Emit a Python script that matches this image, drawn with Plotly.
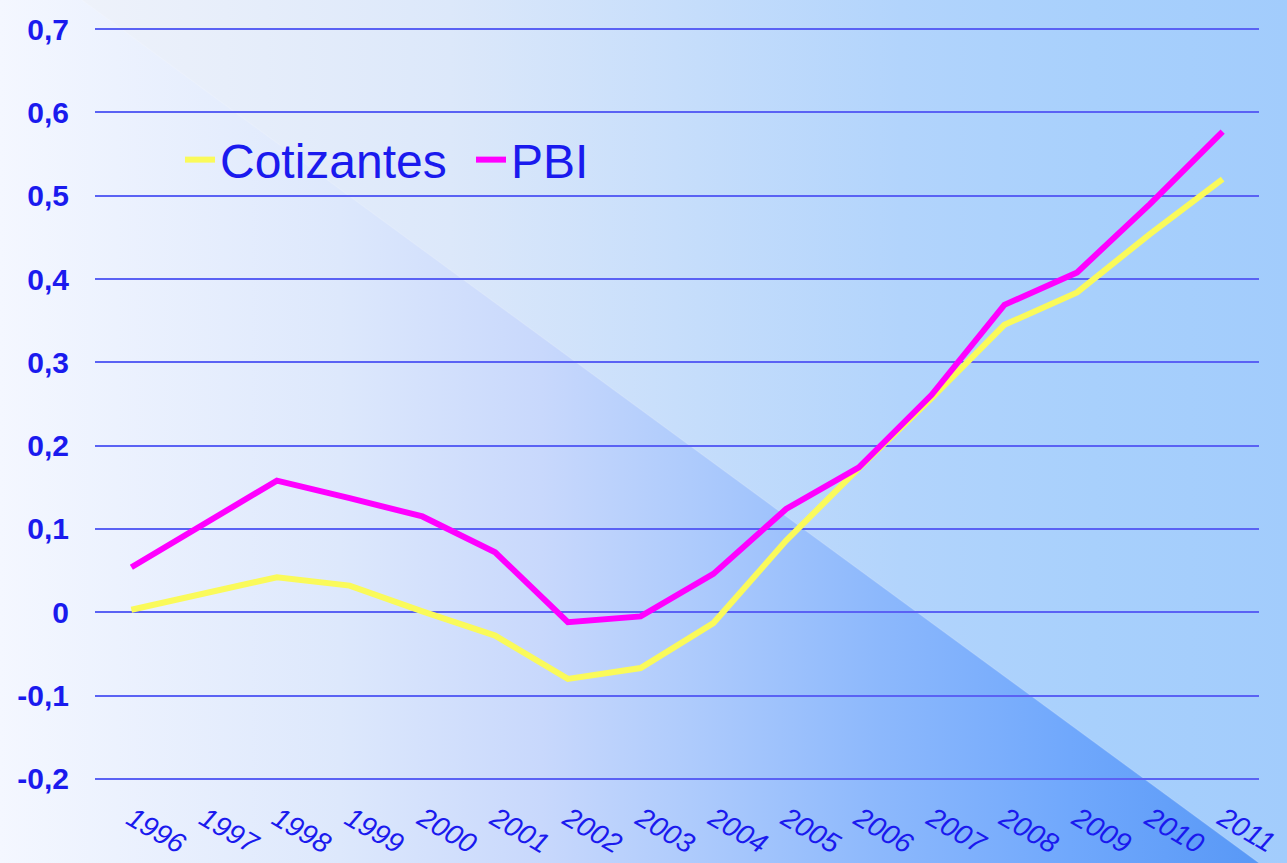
import base64
import plotly.graph_objects as go

years = [str(y) for y in range(1996, 2012)]
cotizantes = [0.003, 0.022, 0.042, 0.032, 0.001, -0.028, -0.080, -0.067,
              -0.013, 0.086, 0.173, 0.257, 0.345, 0.384, 0.454, 0.520]
pbi = [0.054, 0.107, 0.158, 0.137, 0.115, 0.072, -0.012, -0.005,
       0.046, 0.124, 0.174, 0.261, 0.369, 0.408, 0.490, 0.577]
y_ticks = [-0.2, -0.1, 0, 0.1, 0.2, 0.3, 0.4, 0.5, 0.6, 0.7]
y_labels = ["-0,2", "-0,1", "0", "0,1", "0,2", "0,3", "0,4", "0,5", "0,6", "0,7"]

W, H = 1287, 863
L, R, T, B = 95, 28, 25, 80
pw, ph = W - L - R, H - T - B

svg = f'''<svg xmlns="http://www.w3.org/2000/svg" width="{W}" height="{H}" viewBox="0 0 {W} {H}" preserveAspectRatio="none">
<defs>
<linearGradient id="g1" x1="0" y1="0" x2="1" y2="0">
<stop offset="0" stop-color="#f2f4fa"/><stop offset="0.35" stop-color="#dce8fa"/>
<stop offset="0.7" stop-color="#b2d4fc"/><stop offset="0.85" stop-color="#a8d0fc"/>
<stop offset="1" stop-color="#a2ccfc"/>
</linearGradient>
<linearGradient id="g2" x1="0" y1="0" x2="1" y2="0">
<stop offset="0" stop-color="#f4f7ff"/><stop offset="0.27" stop-color="#dde8fc"/>
<stop offset="0.43" stop-color="#c8d8fc"/><stop offset="0.54" stop-color="#b0ccfc"/>
<stop offset="0.7" stop-color="#8cb8fc"/><stop offset="0.85" stop-color="#70a8fc"/>
<stop offset="1" stop-color="#5898f6"/>
</linearGradient>
</defs>
<rect x="0" y="0" width="{W}" height="{H}" fill="url(#g1)"/>
<polygon points="0,0 82,0 1259,{H} 0,{H}" fill="url(#g2)"/>
<line x1="82" y1="0" x2="1259" y2="{H}" stroke="#ffffff" stroke-opacity="0.15" stroke-width="1.2"/>
</svg>'''
src = "data:image/svg+xml;base64," + base64.b64encode(svg.encode()).decode()

fig = go.Figure()
fig.add_trace(go.Scatter(x=years, y=cotizantes, name="Cotizantes", mode="lines",
                         line=dict(color="#fafa5a", width=6)))
fig.add_trace(go.Scatter(x=years, y=pbi, name="PBI", mode="lines",
                         line=dict(color="#ff00ff", width=6)))

fig.update_layout(
    width=W, height=H,
    margin=dict(l=L, r=R, t=T, b=B),
    paper_bgcolor="#f4f6fc",
    plot_bgcolor="rgba(0,0,0,0)",
    images=[dict(source=src, xref="paper", yref="paper",
                 x=-L / pw, y=1 + T / ph, sizex=W / pw, sizey=H / ph,
                 xanchor="left", yanchor="top", sizing="stretch", layer="below")],
    font=dict(family="Arial, Liberation Sans, sans-serif", color="#1a1aee"),
    legend=dict(orientation="h", x=(180 - L) / pw, y=0.822, xanchor="left", yanchor="middle",
                bgcolor="rgba(0,0,0,0)", font=dict(size=48, color="#1a1aee"),
                entrywidth=246, entrywidthmode="pixels"),
    showlegend=True,
)
fig.update_xaxes(type="category", range=[-0.5, 15.5], automargin=False,
                 showgrid=False, zeroline=False, showline=False,
                 ticks="", tickangle=30, ticklabelstandoff=13,
                 tickfont=dict(size=28, family="Arial, Liberation Sans, sans-serif",
                               color="#1a1aee", style="italic"))
fig.update_yaxes(range=[-0.205, 0.705], tickvals=y_ticks, ticktext=y_labels, automargin=False,
                 showgrid=True, gridcolor="#5a62f4", gridwidth=2,
                 zeroline=False, showline=False, ticks="", ticklabelstandoff=25,
                 tickfont=dict(size=30, family="Arial, Liberation Sans, sans-serif",
                               color="#1a1aee", weight="bold"))

fig.write_html("out.html", config={"displayModeBar": False},
               post_script="document.body.style.margin='0';")
